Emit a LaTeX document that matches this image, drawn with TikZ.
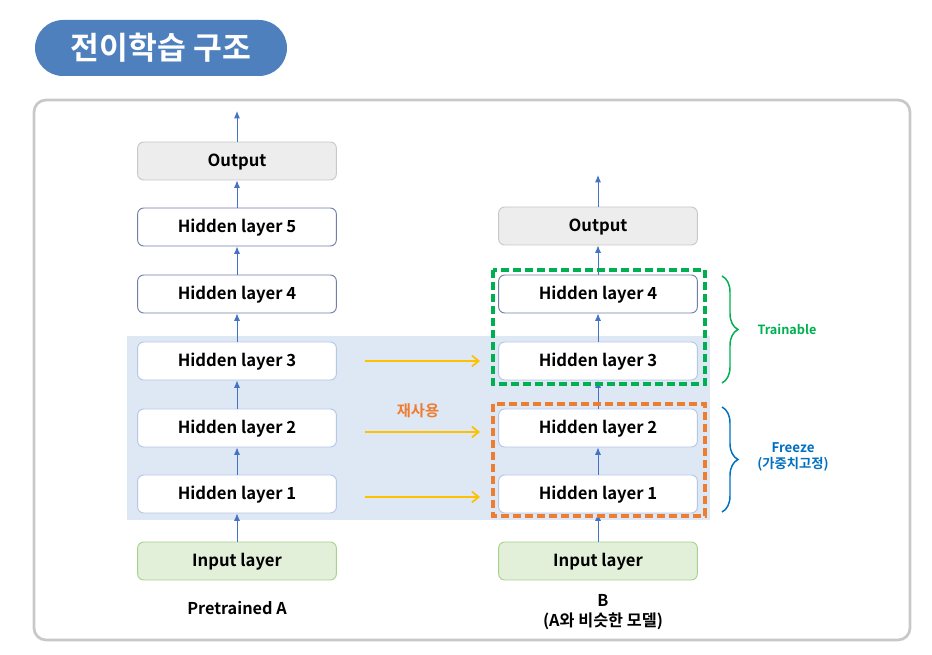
\documentclass[tikz,border=0pt]{standalone}
\usepackage{fontspec}
\setmainfont{Noto Sans CJK KR}[BoldFont={Noto Sans CJK KR Bold}]
\usetikzlibrary{arrows.meta,decorations.pathreplacing}
\definecolor{titleblue}{RGB}{79,128,190}
\definecolor{framegray}{RGB}{200,200,200}
\definecolor{shadeblue}{RGB}{222,231,244}
\definecolor{linkblue}{RGB}{68,114,196}
\definecolor{reuseyellow}{RGB}{255,192,0}
\definecolor{reuseorange}{RGB}{237,125,49}
\definecolor{traingreen}{RGB}{0,176,80}
\definecolor{freezeblue}{RGB}{0,112,192}
\definecolor{inputfill}{RGB}{226,240,217}
\definecolor{inputline}{RGB}{169,209,142}
\definecolor{outfill}{RGB}{237,237,237}
\definecolor{outline}{RGB}{200,200,200}
\definecolor{darkline}{RGB}{110,127,168}
\definecolor{lightline}{RGB}{180,199,231}

\begin{document}
\begin{tikzpicture}
	[x=0.75pt,y=-0.75pt,
	layer/.style={draw=darkline,fill=white,rounded corners=4.5pt,minimum width=149pt,minimum height=28.5pt,text height=9pt,text depth=0pt,font=\fontsize{12.5}{14}\selectfont\bfseries,line width=0.7pt},
	inlayer/.style={layer,draw=lightline},
	outlayer/.style={layer,draw=outline,fill=outfill},
	inputlayer/.style={layer,draw=inputline,fill=inputfill},
	link/.style={-{Latex[length=5.5pt,width=4.5pt]},linkblue,line width=0.7pt},
	reuse/.style={-{Straight Barb[length=5pt,width=8pt]},reuseyellow,line width=1.3pt},
	groupbox/.style={dash pattern=on 6pt off 3pt,line width=2.3pt},
	groupbrace/.style={decorate,decoration={brace,amplitude=12pt},line width=1.1pt},
	caption/.style={font=\fontsize{12.2}{14.5}\selectfont\bfseries,align=center}]
	\useasboundingbox (0,0) rectangle (932,655);
	% title and frame
	\node[fill=titleblue,rounded corners=21pt,minimum width=189pt,minimum height=42pt,text=white,font=\fontsize{23.5}{26}\selectfont\bfseries] (title) at (161,48) {전이학습 구조};
	\draw[framegray,line width=2pt,rounded corners=9pt] (34,100) rectangle (910,640);
	\fill[shadeblue] (127,336) rectangle (710,520);
	
	% pretrained A
	\node[outlayer] (a_out) at (237,161) {Output};
	\node[layer] (a_h5) at (237,227) {Hidden layer 5};
	\node[layer] (a_h4) at (237,294) {Hidden layer 4};
	\node[inlayer] (a_h3) at (237,361) {Hidden layer 3};
	\node[inlayer] (a_h2) at (237,428) {Hidden layer 2};
	\node[inlayer] (a_h1) at (237,494) {Hidden layer 1};
	\node[inputlayer] (a_in) at (237,561) {Input layer};
	\coordinate (a_top) at (237,111);
	\draw[link] (a_in) -- (a_h1);
	\draw[link] (a_h1) -- (a_h2);
	\draw[link] (a_h2) -- (a_h3);
	\draw[link] (a_h3) -- (a_h4);
	\draw[link] (a_h4) -- (a_h5);
	\draw[link] (a_h5) -- (a_out);
	\draw[link] (a_out) -- (a_top);
	\node[caption] (a_name) at (237,608) {Pretrained A};
	
	% model B
	\node[outlayer] (b_out) at (598,226) {Output};
	\node[layer] (b_h4) at (598,294) {Hidden layer 4};
	\node[inlayer] (b_h3) at (598,361) {Hidden layer 3};
	\node[inlayer] (b_h2) at (598,428) {Hidden layer 2};
	\node[inlayer] (b_h1) at (598,494) {Hidden layer 1};
	\node[inputlayer] (b_in) at (598,561) {Input layer};
	\coordinate (b_top) at (598,175);
	\draw[link] (b_in) -- (b_h1);
	\draw[link] (b_h1) -- (b_h2);
	\draw[link] (b_h2) -- (b_h3);
	\draw[link] (b_h3) -- (b_h4);
	\draw[link] (b_h4) -- (b_out);
	\draw[link] (b_out) -- (b_top);
	\node[caption] (b_name) at (603,612) {B\\(A와 비슷한 모델)};
	
	% reuse arrows
	\coordinate (r3) at (365,361);
	\coordinate (r2) at (365,432);
	\coordinate (r1) at (365,497);
	\draw[reuse] (r3) -- (480,361);
	\draw[reuse] (r2) -- (480,432);
	\draw[reuse] (r1) -- (480,497);
	\node[text=reuseorange,font=\fontsize{11.5}{13}\selectfont\bfseries] (reuse_lbl) at (418,411) {재사용};
	
	% trainable / freeze groups
	\draw[groupbox,traingreen] (493,270) rectangle (705,384);
	\draw[groupbox,reuseorange] (493,404) rectangle (705,516);
	\draw[groupbrace,traingreen] (722,276) -- (722,383) coordinate[midway] (t_mid);
	\draw[groupbrace,freezeblue] (722,407) -- (722,512) coordinate[midway] (f_mid);
	\node[text=traingreen,font=\fontsize{9.5}{11}\selectfont\bfseries] (t_lbl) at (787,329) {Trainable};
	\node[text=freezeblue,font=\fontsize{10}{12}\selectfont\bfseries,align=center] (f_lbl) at (793,457) {Freeze\\(가중치고정)};
\end{tikzpicture}
\end{document}
